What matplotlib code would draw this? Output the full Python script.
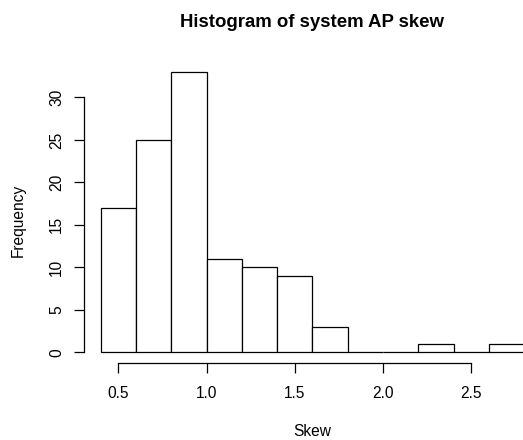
import numpy as np
import matplotlib.pyplot as plt

plt.rcParams['font.family'] = ['Liberation Sans', 'DejaVu Sans']

# histogram bins (left edges) and counts
bin_left = [0.4, 0.6, 0.8, 1.0, 1.2, 1.4, 1.6, 1.8, 2.0, 2.2, 2.4, 2.6]
counts = [17, 25, 33, 11, 10, 9, 3, 0, 0, 1, 0, 1]
bin_width = 0.2
xticks = [0.5, 1.0, 1.5, 2.0, 2.5]
yticks = [0, 5, 10, 15, 20, 25, 30]

fig = plt.figure(figsize=(5.23, 4.4), dpi=100)
ax = fig.add_axes([0.160, 0.174, 0.840, 0.688])

ax.bar(bin_left, counts, width=bin_width, align='edge',
       facecolor='white', edgecolor='black', linewidth=0.9)

# R style: 4% padding around data range
ax.set_xlim(0.304, 2.793)
ax.set_ylim(-1.32, 34.32)

for s in ['top', 'right']:
    ax.spines[s].set_visible(False)
ax.spines['bottom'].set_bounds(xticks[0], xticks[-1])
ax.spines['left'].set_bounds(yticks[0], yticks[-1])
for s in ['bottom', 'left']:
    ax.spines[s].set_linewidth(0.9)

ax.set_xticks(xticks)
ax.set_xticklabels(['0.5', '1.0', '1.5', '2.0', '2.5'])
ax.set_yticks(yticks)
ax.set_yticklabels([str(v) for v in yticks], rotation=90, va='center')
ax.tick_params(axis='both', direction='out', length=7, width=0.9, labelsize=11.2)
ax.tick_params(axis='x', pad=9)
ax.tick_params(axis='y', pad=7)

ax.set_xlabel('Skew', fontsize=11.2)
ax.set_ylabel('Frequency', fontsize=11.2)
ax.xaxis.set_label_coords(0.5, -0.2, transform=ax.transAxes)
ax.xaxis.label.set_va('center')
ax.yaxis.label.set_va('center')
ax.yaxis.set_label_coords(18 / 523, 0.5, transform=fig.transFigure)
ax.xaxis.set_label_coords(0.5, 1 - 431 / 440, transform=fig.transFigure)
ax.xaxis.label.set_x(312 / 523)

fig.text(312 / 523, 1 - 27.3 / 440, 'Histogram of system AP skew', ha='center',
         va='baseline', fontsize=13.4, fontweight='bold')

fig.savefig('out.png', dpi=100)
